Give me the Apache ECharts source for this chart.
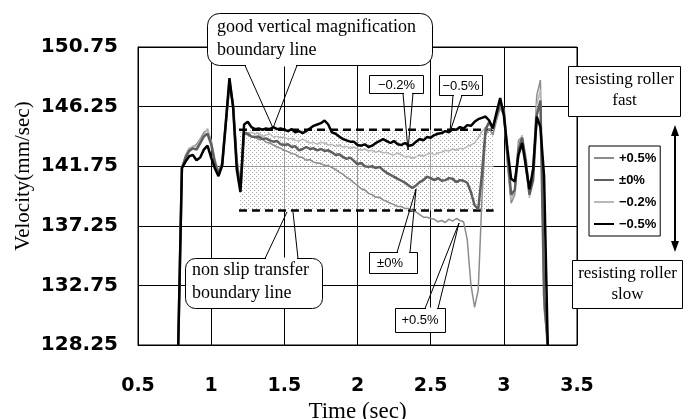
<!DOCTYPE html>
<html><head><meta charset="utf-8">
<script src="https://cdn.jsdelivr.net/npm/echarts@6/dist/echarts.min.js"></script>
<style>html,body{margin:0;padding:0;background:#fff}#c{width:698px;height:419px}</style>
</head><body><div id="c"></div>
<script>
// sampling grid of the recorded curves (seconds)
const startTime = 0.775, timeStep = 0.025, sampleCount = 102;
const time = Array.from({length: sampleCount}, (_, i) => +(startTime + timeStep * i).toFixed(3));

const seriesNames = ['+0.5%', '±0%', '−0.2%', '−0.5%'];

// velocity (mm/sec), rows of 10 samples
const plus05 = [
  128.25, 141.6, 142.6, 143.1, 143.2, 143.4, 143.8, 144.3, 144.5, 143.7,
  142.3, 141.3, 142.0, 145.0, 147.9, 146.4, 142.3, 140.2, 144.25, 144.1,
  144.0, 143.95, 143.75, 143.8, 143.55, 143.5, 143.35, 143.2, 143.1, 142.95,
  142.85, 142.7, 142.65, 142.45, 142.4, 142.2, 142.25, 142.05, 142.0, 141.95,
  141.8, 141.8, 141.65, 141.5, 141.3, 141.15, 140.9, 140.75, 140.5, 140.3,
  140.05, 139.95, 139.7, 139.6, 139.4, 139.4, 139.2, 139.1, 138.95, 138.85,
  138.7, 138.7, 138.55, 138.55, 138.4, 138.3, 138.1, 137.9, 137.9, 137.8,
  137.75, 137.55, 137.65, 137.5, 137.75, 137.6, 137.8, 137.65, 137.55, 136.2,
  132.8, 131.1, 132.4, 139.2, 144.1, 144.6, 144.1, 145.2, 146.15, 145.6,
  141.8, 138.95, 139.6, 143.7, 143.95, 141.45, 139.6, 141.8, 147.1, 148.25,
  131.0, 128.25
];
const zero = [
  128.25, 141.6, 142.4, 142.9, 143.1, 143.0, 143.5, 144.0, 144.2, 143.4,
  142.0, 141.2, 141.9, 145.0, 148.1, 146.3, 142.0, 140.0, 144.25, 144.2,
  144.0, 143.95, 144.0, 143.8, 143.85, 143.7, 143.6, 143.65, 143.4, 143.35,
  143.4, 143.2, 143.25, 142.95, 143.05, 143.2, 143.05, 143.1, 142.95, 143.05,
  142.9, 142.95, 142.8, 142.6, 142.65, 142.45, 142.3, 142.4, 142.15, 141.9,
  142.0, 141.75, 141.7, 141.75, 141.6, 141.7, 141.45, 141.25, 141.1, 140.95,
  140.8, 140.65, 140.5, 140.3, 140.1, 140.3, 140.55, 140.7, 140.95, 140.85,
  140.7, 140.85, 140.65, 140.7, 140.85, 140.8, 140.55, 140.7, 140.65, 140.5,
  139.8, 138.8, 138.5, 141.1, 144.5, 145.1, 144.7, 145.6, 146.5, 146.0,
  142.6, 139.6, 139.95, 143.0, 143.9, 142.2, 139.6, 140.7, 145.6, 146.7,
  132.0, 128.25
];
const minus02 = [
  128.25, 141.6, 142.5, 143.0, 143.3, 143.2, 143.7, 144.1, 144.6, 143.5,
  142.1, 141.4, 142.1, 144.8, 147.8, 146.5, 142.4, 140.3, 144.4, 144.25,
  144.3, 144.2, 144.25, 144.0, 144.1, 144.2, 143.95, 144.0, 143.9, 143.95,
  143.8, 143.85, 143.7, 143.65, 143.8, 143.65, 143.5, 143.55, 143.4, 143.55,
  143.5, 143.35, 143.4, 143.25, 143.35, 143.2, 143.25, 143.1, 143.2, 143.05,
  142.95, 143.05, 142.9, 142.95, 142.8, 142.9, 142.75, 142.8, 142.65, 142.6,
  142.75, 142.6, 142.45, 142.5, 142.35, 142.45, 142.6, 142.5, 142.65, 142.75,
  142.6, 142.75, 142.8, 142.95, 142.9, 143.05, 142.95, 143.1, 143.05, 143.25,
  143.35, 143.5, 143.9, 144.35, 144.7, 144.9, 144.5, 145.4, 146.4, 145.85,
  142.2, 139.2, 139.95, 143.35, 144.1, 141.8, 139.35, 141.1, 146.4, 147.5,
  131.5, 128.25
];
const minus05 = [
  128.25, 141.6, 142.1, 142.5, 142.6, 142.2, 142.4, 143.0, 143.3, 142.4,
  141.6, 141.0, 141.8, 145.0, 148.4, 146.2, 141.5, 139.8, 144.9, 145.1,
  144.7, 144.55, 144.6, 144.5, 144.6, 144.55, 144.7, 144.55, 144.6, 144.5,
  144.4, 144.55, 144.3, 144.4, 144.25, 144.4, 144.6, 144.8, 144.9, 145.0,
  145.2, 144.9, 144.3, 144.2, 144.0, 143.8, 143.7, 143.6, 143.6, 143.35,
  143.3, 143.4, 143.2, 143.3, 143.5, 143.65, 143.8, 143.65, 143.5, 143.65,
  143.4, 143.35, 143.5, 143.3, 143.35, 143.6, 143.8, 143.7, 143.95, 143.9,
  144.1, 144.2, 144.25, 144.4, 144.3, 144.55, 144.5, 144.7, 144.6, 144.85,
  144.8, 145.1, 145.3, 145.4, 145.5, 145.2, 144.6, 145.8, 146.9, 145.6,
  143.0, 140.8, 140.6, 142.6, 143.5, 141.8, 140.0, 141.5, 145.5, 144.7,
  141.0, 128.25
];

const yTicks = [128.25, 132.75, 137.25, 141.75, 146.25, 150.75];
const boundaryTimes = [1.19, 2.93];
const upperBoundary = 144.5;
const lowerBoundary = 138.4;

const chart = echarts.init(document.getElementById('c'), null, {renderer: 'canvas'});

// stippled fill for the band between the boundary lines
const pc = document.createElement('canvas');
pc.width = 4; pc.height = 4;
const pctx = pc.getContext('2d');
pctx.fillStyle = 'rgba(255,255,255,0.6)';
pctx.fillRect(0, 0, 4, 4);
pctx.fillStyle = '#a4a4a4';
pctx.fillRect(0, 0, 1, 1);
pctx.fillRect(2, 2, 1, 1);
const stipple = {image: pc, repeat: 'repeat'};

const ink = '#000';
const serif = '"Liberation Serif", "Times New Roman", serif';
const sans = '"Liberation Sans", Arial, sans-serif';
function box(x, y, w, h, r) {
  return {type: 'rect', z: 100, shape: {x, y, width: w, height: h, r: r || 0},
    style: {fill: '#fff', stroke: ink, lineWidth: 1}};
}
function gap(x1, x2, y) {
  return {type: 'line', z: 100, shape: {x1: x1 + 1, y1: y, x2: x2 - 1, y2: y},
    style: {stroke: '#fff', lineWidth: 2}};
}
function tail(pts) {
  return {type: 'polyline', z: 100, shape: {points: pts},
    style: {stroke: ink, lineWidth: 1, fill: null}};
}
function txt(x, y, text, font, align) {
  return {type: 'text', z: 101, x, y,
    style: {text, font, fill: ink, align: align || 'center', verticalAlign: 'middle'}};
}

const bigFont = '18px ' + serif;
const lblFont = '13px ' + sans;

const graphics = [
  // good vertical magnification callout
  box(207.5, 13.5, 225, 52, 12), gap(245, 297, 65.5),
  tail([[245, 65.5], [273, 128], [297, 65.5]]),
  txt(217, 27, 'good vertical magnification', bigFont, 'left'),
  txt(217, 50, 'boundary line', bigFont, 'left'),
  // non slip transfer callout
  box(185.5, 258.5, 137, 50, 10), gap(265, 298, 258.5),
  tail([[265, 258.5], [287, 212]]), tail([[293, 212], [298, 258.5]]),
  txt(192, 270, 'non slip transfer', bigFont, 'left'),
  txt(192, 293, 'boundary line', bigFont, 'left'),
  // series labels
  box(369.5, 75.5, 54, 18), gap(403, 413, 93.5),
  tail([[403, 93.5], [408, 150], [413, 93.5]]),
  txt(396.5, 85, '−0.2%', lblFont),
  box(439.5, 75.5, 43, 20), gap(453, 462, 95.5),
  tail([[453, 95.5], [450, 132], [462, 95.5]]),
  txt(461, 86, '−0.5%', lblFont),
  box(369.5, 252.5, 48, 21), gap(397, 410, 252.5),
  tail([[397, 252.5], [416, 189], [410, 252.5]]),
  txt(390, 263, '±0%', lblFont),
  box(395.5, 308.5, 50, 24), gap(425, 438, 308.5),
  tail([[425, 308.5], [459, 223], [438, 308.5]]),
  txt(420, 320, '+0.5%', lblFont),
  // resisting roller boxes
  box(568.5, 66.5, 112, 50), txt(624.5, 80, 'resisting roller', '17px ' + serif),
  txt(624.5, 101, 'fast', '17px ' + serif),
  box(572.5, 260.5, 110, 48), txt(627.5, 274, 'resisting roller', '17px ' + serif),
  txt(627.5, 295, 'slow', '17px ' + serif),
  // double arrow
  {type: 'line', z: 100, shape: {x1: 675, y1: 133, x2: 675, y2: 244}, style: {stroke: ink, lineWidth: 2}},
  {type: 'polygon', z: 100, shape: {points: [[675, 125], [671, 136], [679, 136]]}, style: {fill: ink}},
  {type: 'polygon', z: 100, shape: {points: [[675, 252], [671, 241], [679, 241]]}, style: {fill: ink}},
  // y axis title
  {type: 'text', z: 101, x: 23, y: 176, rotation: Math.PI / 2,
    style: {text: 'Velocity(mm/sec)', font: '21px ' + serif, fill: ink, align: 'center', verticalAlign: 'middle'}}
];

const styles = {
  '+0.5%': {color: '#8c8c8c', width: 1.5, z: 3},
  '−0.2%': {color: '#b8b8b8', width: 1.5, z: 4},
  '±0%': {color: '#5e5e5e', width: 2.5, z: 5},
  '−0.5%': {color: '#000000', width: 2.5, z: 6}
};
const values = {'+0.5%': plus05, '±0%': zero, '−0.2%': minus02, '−0.5%': minus05};
const drawOrder = ['+0.5%', '−0.2%', '±0%', '−0.5%'];

const dataSeries = drawOrder.map(name => ({
  name, type: 'line', symbol: 'none', showSymbol: false, silent: true,
  z: styles[name].z,
  data: time.map((t, i) => [t, values[name][i]]),
  lineStyle: {color: styles[name].color, width: styles[name].width},
  itemStyle: {color: styles[name].color}
}));

const option = {
  animation: false,
  backgroundColor: '#fff',
  grid: {left: 138, top: 47, width: 439, height: 298, show: true, borderColor: '#000', borderWidth: 1,
    containLabel: false, outerBoundsMode: 'none'},
  legend: {
    data: seriesNames, orient: 'vertical', left: 589, top: 146,
    padding: [5, 4, 5, 4], itemWidth: 20, itemHeight: 14, itemGap: 8,
    borderColor: '#000', borderWidth: 1, backgroundColor: '#fff',
    itemStyle: {opacity: 0},
    textStyle: {fontFamily: sans, fontWeight: 'bold', fontSize: 13, color: '#000', lineHeight: 14}
  },
  xAxis: {
    type: 'value', min: 0.5, max: 3.5, interval: 0.5,
    axisLine: {show: true, lineStyle: {color: '#000'}},
    axisTick: {show: false},
    splitLine: {show: true, lineStyle: {color: '#000', width: 1}},
    axisLabel: {fontFamily: '"DejaVu Sans", sans-serif', fontWeight: 'bold', fontSize: 19, color: '#000', margin: 32},
    name: 'Time (sec)', nameLocation: 'middle', nameGap: 46,
    nameTextStyle: {fontFamily: serif, fontSize: 23, color: '#000'}
  },
  yAxis: {
    type: 'value', min: 128.25, max: 150.75,
    axisLine: {show: true, lineStyle: {color: '#000'}},
    axisTick: {show: false, customValues: yTicks},
    splitLine: {show: true, lineStyle: {color: '#000', width: 1}},
    axisLabel: {customValues: yTicks, fontFamily: '"DejaVu Sans", sans-serif', fontWeight: 'bold', fontSize: 20,
      color: '#000', margin: 20, padding: [6, 0, 0, 0]}
  },
  series: [
    {
      name: 'upper boundary', type: 'line', symbol: 'none', silent: true, z: 2,
      data: boundaryTimes.map(t => [t, upperBoundary]),
      lineStyle: {color: '#000', width: 2.5, type: [8, 5]},
      markArea: {silent: true, itemStyle: {color: stipple},
        data: [[{coord: [boundaryTimes[0], lowerBoundary]}, {coord: [boundaryTimes[1], upperBoundary]}]]}
    },
    {
      name: 'lower boundary', type: 'line', symbol: 'none', silent: true, z: 2,
      data: boundaryTimes.map(t => [t, lowerBoundary]),
      lineStyle: {color: '#000', width: 2.5, type: [8, 5]}
    },
    ...dataSeries
  ],
  graphic: graphics
};
chart.setOption(option);
</script></body></html>
